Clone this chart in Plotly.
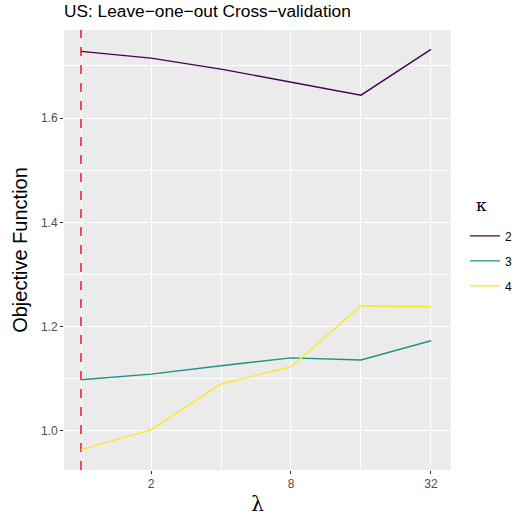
import math
import plotly.graph_objects as go

lam = [1, 2, 4, 8, 16, 32]
kappa_labels = ["2", "3", "4"]
obj_k2 = [1.728, 1.715, 1.694, 1.669, 1.644, 1.732]
obj_k3 = [1.098, 1.109, 1.125, 1.140, 1.136, 1.173]
obj_k4 = [0.964, 1.002, 1.090, 1.123, 1.240, 1.238]
colors = ["#440154", "#21908C", "#FDE725"]
x_ticks = [2, 8, 32]
y_ticks = [1.0, 1.2, 1.4, 1.6]
best_lambda = 1

fig = go.Figure()
y_lo, y_hi = 0.925, 1.769
fig.add_trace(go.Scatter(x=[best_lambda, best_lambda], y=[y_lo, y_hi], mode="lines",
                         line=dict(color="#F0141E", width=1.5, dash="dash"),
                         showlegend=False, hoverinfo="skip"))
for lab, vals, c in zip(kappa_labels, [obj_k2, obj_k3, obj_k4], colors):
    fig.add_trace(go.Scatter(x=lam, y=vals, mode="lines", name=lab, legendgroup=lab,
                             line=dict(color=c, width=1.4)))

fig.update_layout(
    width=515, height=517,
    margin=dict(l=64, r=64, t=30, b=47, autoexpand=False),
    paper_bgcolor="white", plot_bgcolor="#EBEBEB",
    font=dict(family="Liberation Sans, Arial, sans-serif", color="#4D4D4D"),
    title=dict(text="US: Leave\u2212one\u2212out Cross\u2212validation",
               x=64/515, xanchor="left", y=1 - 11/517, yanchor="middle",
               font=dict(size=17.3, color="black")),
    legend=dict(x=1.036, xanchor="left", y=0.565, yanchor="top",
                font=dict(size=12, color="black"), bgcolor="rgba(0,0,0,0)",
                tracegroupgap=6, itemwidth=30),
    showlegend=True,
    annotations=[dict(text="\u03ba", xref="paper", yref="paper", x=1.08, y=0.602,
                      xanchor="center", yanchor="middle", showarrow=False,
                      font=dict(size=17, color="black", family="DejaVu Serif"))],
)
fig.update_xaxes(
    type="log",
    range=[math.log10(2 ** -0.243), math.log10(2 ** 5.286)],
    tickvals=x_ticks, ticktext=[str(v) for v in x_ticks],
    showgrid=True, gridcolor="white", gridwidth=1.1,
    minor=dict(tickvals=[1, 4, 16], showgrid=True, gridcolor="white", gridwidth=0.5, ticklen=0),
    ticks="outside", ticklen=3, tickcolor="#333333", tickwidth=1,
    tickfont=dict(size=12, color="#4D4D4D"),
    title=dict(text="\u03bb", font=dict(size=20, color="black", family="DejaVu Serif"), standoff=6),
    zeroline=False, showline=False,
)
fig.update_yaxes(
    range=[y_lo, y_hi],
    tickvals=y_ticks, ticktext=["%.1f" % v for v in y_ticks],
    showgrid=True, gridcolor="white", gridwidth=1.1,
    minor=dict(tickvals=[1.1, 1.3, 1.5, 1.7], showgrid=True, gridcolor="white", gridwidth=0.5, ticklen=0),
    ticks="outside", ticklen=3, tickcolor="#333333", tickwidth=1,
    tickfont=dict(size=12, color="#4D4D4D"),
    title=dict(text="Objective Function", font=dict(size=20, color="black"), standoff=7),
    zeroline=False, showline=False,
)
fig.write_html("out.html", config={"displayModeBar": False},
               post_script="document.body.style.margin='0';")
